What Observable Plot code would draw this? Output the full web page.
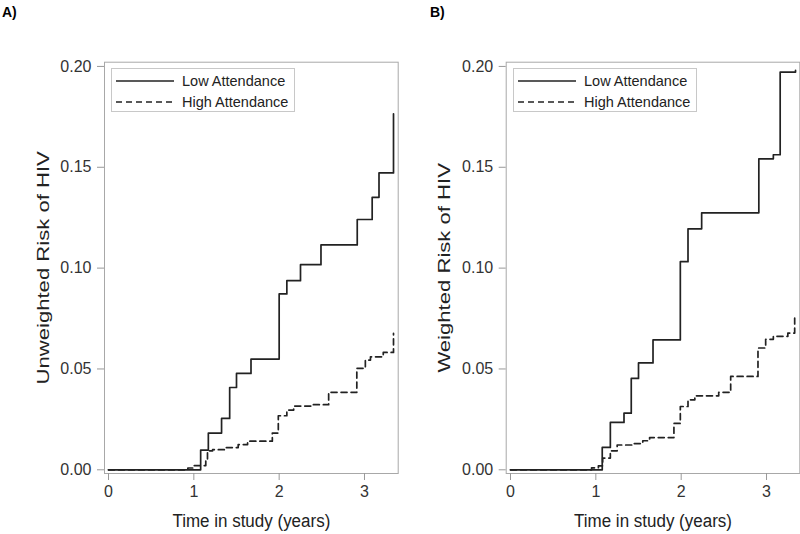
<!DOCTYPE html>
<html>
<head>
<meta charset="utf-8">
<script src="https://cdn.jsdelivr.net/npm/d3@7"></script>
<script src="https://cdn.jsdelivr.net/npm/@observablehq/plot@0.6"></script>
<style>
  html, body { margin: 0; padding: 0; background: #fff; }
  #root { position: relative; width: 800px; height: 534px; overflow: hidden; font-family: "Liberation Sans", Arial, sans-serif; }
  .panel { position: absolute; top: 0; }
  .tag { position: absolute; font-weight: bold; font-size: 14px; color: #000; }
  .legend { position: absolute; border: 1px solid #c8c8c8; background: #fff; font-size: 14.5px; color: #222; padding: 0; box-sizing: border-box; }
  .legend .row { position: absolute; left: 0; display: flex; align-items: center; }
  .legend svg { display: block; }
  svg g[aria-label="x-axis label"] text, svg g[aria-label="y-axis label"] text { font-size: 17px; fill: #222; }
</style>
</head>
<body>
<div id="root"></div>
<script>
// ---- data ----
const seriesNames = ["Low Attendance", "High Attendance"];
const xTicks = [0, 1, 2, 3];
const yTicks = [0, 0.05, 0.10, 0.15, 0.20];
const panelTags = ["A)", "B)"];
const yLabels = ["Unweighted Risk of HIV", "Weighted Risk of HIV"];
const xLabel = "Time in study (years)";

// Panel A: unweighted
const lowA_t = [0, 1.08, 1.17, 1.325, 1.42, 1.50, 1.67, 2.00, 2.09, 2.25, 2.49, 2.915, 3.09, 3.17, 3.34];
const lowA_r = [0, 0.0098, 0.0182, 0.0255, 0.0408, 0.0478, 0.0549, 0.0872, 0.0938, 0.1017, 0.1115, 0.1241, 0.1351, 0.1472, 0.1765];
const highA_t = [0, 0.93, 1.00, 1.14, 1.16, 1.22, 1.38, 1.52, 1.63, 1.92, 1.99, 2.09, 2.17, 2.40, 2.58, 2.91, 3.01, 3.07, 3.22, 3.34];
const highA_r = [0, 0.0009, 0.0021, 0.0046, 0.0094, 0.0100, 0.0110, 0.0125, 0.0142, 0.0182, 0.0268, 0.0296, 0.0316, 0.0323, 0.0384, 0.0503, 0.0544, 0.0560, 0.0582, 0.0676];

// Panel B: weighted
const lowB_t = [0, 1.075, 1.17, 1.33, 1.415, 1.50, 1.67, 1.99, 2.08, 2.24, 2.91, 3.08, 3.16, 3.34];
const lowB_r = [0, 0.0111, 0.0235, 0.0281, 0.0453, 0.0530, 0.0644, 0.1032, 0.1195, 0.1274, 0.1542, 0.1562, 0.1972, 0.1980];
const highB_t = [0, 0.95, 1.03, 1.08, 1.17, 1.25, 1.43, 1.55, 1.63, 1.915, 1.99, 2.08, 2.16, 2.44, 2.58, 2.90, 2.99, 3.08, 3.25, 3.33];
const highB_r = [0, 0.0010, 0.0020, 0.0058, 0.0094, 0.0123, 0.0130, 0.0144, 0.0160, 0.0230, 0.0314, 0.0347, 0.0367, 0.0384, 0.0463, 0.0604, 0.0647, 0.0662, 0.0678, 0.0756];

const toRows = (ts, rs) => ts.map((t, i) => ({t, r: rs[i]}));

const root = document.getElementById("root");

function makePanel(cfg) {
  const low = toRows(cfg.lowT, cfg.lowR);
  const high = toRows(cfg.highT, cfg.highR);
  const plot = Plot.plot({
    width: 400,
    height: 534,
    marginLeft: cfg.ml,
    marginRight: cfg.mr,
    marginTop: 61.7,
    marginBottom: 61,
    style: {fontFamily: '"Liberation Sans", Arial, sans-serif', fontSize: "16px", color: "#333", background: "transparent", overflow: "visible"},
    x: {domain: cfg.xDomain},
    y: {domain: [-0.00183, 0.2021]},
    marks: [
      Plot.frame({stroke: "#a8a8a8", strokeWidth: 1}),
      Plot.axisY({ticks: yTicks, tickFormat: d3.format(".2f"), tickSize: 7, tickPadding: 6, stroke: "#999", fill: "#333",
        label: cfg.yLabel, labelAnchor: "center", labelOffset: 68, labelArrow: "none"}),
      Plot.axisX({ticks: xTicks, tickFormat: d3.format("d"), tickSize: 7, tickPadding: 5, stroke: "#999", fill: "#333",
        label: xLabel, labelAnchor: "center", labelOffset: 53, labelArrow: "none"}),
      Plot.line(high, {x: "t", y: "r", curve: "step-after", stroke: "#222", strokeWidth: 1.7, strokeDasharray: "6,4"}),
      Plot.line(low, {x: "t", y: "r", curve: "step-after", stroke: "#222", strokeWidth: 1.7})
    ]
  });
  // the reference's text is drawn slightly stretched vertically
  d3.select(plot).selectAll('g[aria-label="y-axis label"] text').attr("transform", function() {
    return (this.getAttribute("transform") || "") + " scale(1.3,1)";
  });
  d3.select(plot).selectAll('g[aria-label="x-axis label"] text').attr("transform", function() {
    return (this.getAttribute("transform") || "") + " scale(1,1.12)";
  });
  const wrap = document.createElement("div");
  wrap.className = "panel";
  wrap.style.left = cfg.left + "px";
  wrap.appendChild(plot);
  root.appendChild(wrap);

  // panel tag
  const tag = document.createElement("div");
  tag.className = "tag";
  tag.textContent = cfg.tag;
  tag.style.left = cfg.tagX + "px";
  tag.style.top = "4px";
  root.appendChild(tag);

  // legend box (inside plot, top-left)
  const lg = document.createElement("div");
  lg.className = "legend";
  lg.style.left = cfg.lgX + "px";
  lg.style.top = "68px";
  lg.style.width = cfg.lgW + "px";
  lg.style.height = "44px";
  seriesNames.forEach((name, i) => {
    const row = document.createElement("div");
    row.className = "row";
    row.style.top = (i === 0 ? 3 : 24) + "px";
    row.style.height = "18px";
    row.innerHTML = `<svg width="70" height="18"><line x1="4" x2="62" y1="9" y2="9" stroke="#222" stroke-width="1.6" ${i === 1 ? 'stroke-dasharray="6,4"' : ''}/></svg><span>${name}</span>`;
    lg.appendChild(row);
  });
  root.appendChild(lg);
}

makePanel({left: 0, ml: 104, mr: 2.3, xDomain: [-0.0469, 3.395], lowT: lowA_t, lowR: lowA_r, highT: highA_t, highR: highA_r,
  yLabel: yLabels[0], tag: panelTags[0], tagX: 2, lgX: 111, lgW: 184});
makePanel({left: 400, ml: 105.7, mr: 0.7, xDomain: [-0.0504, 3.390], lowT: lowB_t, lowR: lowB_r, highT: highB_t, highR: highB_r,
  yLabel: yLabels[1], tag: panelTags[1], tagX: 430, lgX: 513, lgW: 184});
</script>
</body>
</html>
